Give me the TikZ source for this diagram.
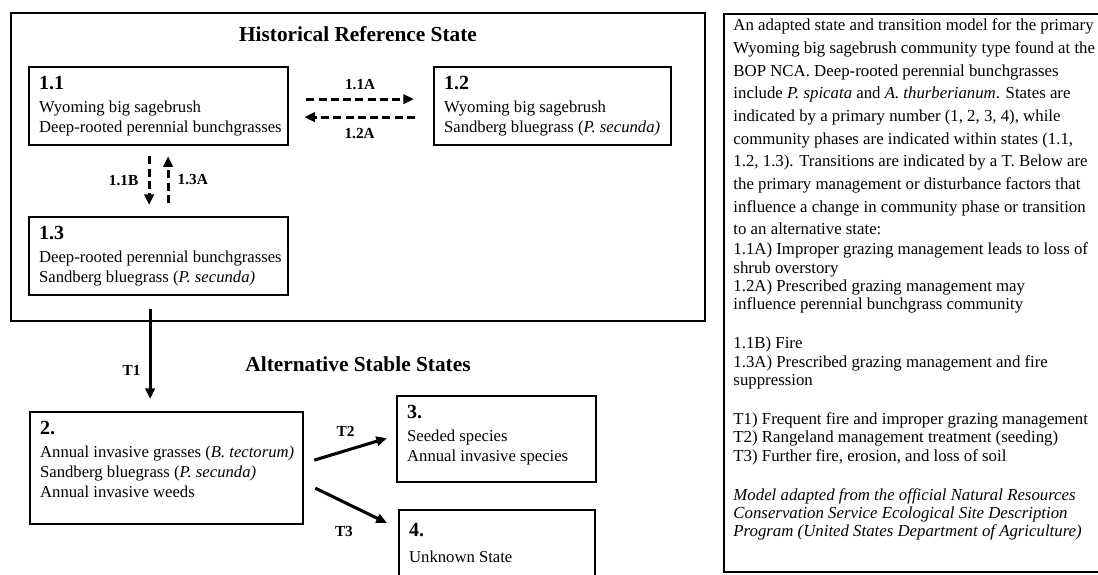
\documentclass[tikz,border=0pt]{standalone}
\usepackage{fontspec}
\setmainfont{Liberation Serif}
\usetikzlibrary{arrows.meta,calc}
\newlength{\pxu}\setlength{\pxu}{0.75pt}
% box of fixed outer size (in px), lines set one per row
\newcommand{\phasebox}[3]{\parbox[t][\dimexpr#2\pxu-6pt\relax][t]{\dimexpr#1\pxu-15pt\relax}{%
  \begin{tabular}[t]{@{}l@{}}#3\end{tabular}}}
\newcommand{\phasenum}[1]{\rule{0pt}{14pt}{\fontsize{15}{15}\selectfont\bfseries #1}\\[2pt]}
\tikzset{
  phase/.style={draw, line width=1.7pt, anchor=north west, inner xsep=7.5pt, inner ysep=3pt,
    font=\fontsize{12.5}{15}\selectfont},
  notes/.style={phase, inner xsep=7pt, font=\fontsize{12.6}{13.75}\selectfont},
  frame/.style={line width=1.7pt},
  heading/.style={font=\fontsize{16}{18}\selectfont\bfseries},
  trans/.style={line width=2.3pt, -{Triangle[length=8pt,width=7pt]}},
  phaseshift/.style={trans, dash pattern=on 6pt off 3.2pt},
  translabel/.style={font=\fontsize{11.5}{13}\selectfont\bfseries, inner sep=1pt},
}
\begin{document}
\begin{tikzpicture}[x=0.75pt,y=-0.75pt]
  \useasboundingbox (0,0) rectangle (1098,574);
  \clip (0,0) rectangle (1098,574);
  % historical reference state
  \draw[frame] (11,13) rectangle (705,321);
  \node[heading] (hrs) at (358,34) {Historical Reference State};
  \node[phase] (p11) at (28,66) {\phasebox{259}{78}{\phasenum{1.1}Wyoming big sagebrush\\
    Deep-rooted perennial bunchgrasses}};
  \node[phase] (p12) at (433,66) {\phasebox{237}{78}{\phasenum{1.2}Wyoming big sagebrush\\
    Sandberg bluegrass (\textit{P. secunda)}}};
  \node[phase] (p13) at (28,216) {\phasebox{259}{78}{\phasenum{1.3}Deep-rooted perennial bunchgrasses\\
    Sandberg bluegrass (\textit{P. secunda)}}};
  \draw[phaseshift] ($(p11.east)+(17,-7)$) -- node[translabel, above=5pt] (l11a) {1.1A} ($(p12.west)+(-19,-7)$);
  \draw[phaseshift] ($(p12.west)+(-18,11)$) -- node[translabel, below=6.5pt] (l12a) {1.2A} ($(p11.east)+(15,11)$);
  \draw[phaseshift] ($(p11.south)+(-9.5,10)$) -- node[translabel, left=6pt] (l11b) {1.1B} ($(p13.north)+(-9.5,-11)$);
  \draw[phaseshift] ($(p13.north)+(9.5,-13)$) -- node[translabel, right=5pt] (l13a) {1.3A} ($(p11.south)+(9.5,10)$);
  % alternative stable states
  \node[heading] (ass) at (358,364) {Alternative Stable States};
  \node[phase] (s2) at (29,411) {\phasebox{273}{112}{\phasenum{2.}Annual invasive grasses (\textit{B. tectorum)}\\
    Sandberg bluegrass (\textit{P. secunda)}\\Annual invasive weeds}};
  \node[phase] (s3) at (396,395) {\phasebox{199}{86}{\phasenum{3.}Seeded species\\Annual invasive species}};
  \node[phase] (s4) at (398,509) {\phasebox{196}{90}{\rule{0pt}{17pt}{\fontsize{15}{15}\selectfont\bfseries 4.}\\[4pt]
    Unknown State}};
  \draw[trans] ($(p13.south)+(-8.5,13)$) -- node[translabel, pos=0.68, left=5pt] (lt1) {T1} ($(s2.north)+(-16.5,-12)$);
  \draw[trans] ($(s2.east)+(10,-8)$) -- node[translabel, pos=0.43, above=8.5pt] (lt2) {T2} ($(s3.west)+(-9,-1)$);
  \draw[trans] ($(s2.east)+(11,20)$) -- node[translabel, pos=0.4, below=16pt] (lt3) {T3} ($(s4.north west)+(-11,14)$);
  % notes
  \node[notes] (note) at (723,13) {\phasebox{400}{558}{%
    An adapted state and transition model for the primary\\[3.25pt]
    Wyoming big sagebrush community type found at the\\[3.25pt]
    BOP NCA. Deep-rooted perennial bunchgrasses\\[3.25pt]
    include \textit{P. spicata} and \textit{A. thurberianum}. States are\\[3.25pt]
    indicated by a primary number (1, 2, 3, 4), while\\[3.25pt]
    community phases are indicated within states (1.1,\\[3.25pt]
    1.2, 1.3). Transitions are indicated by a T. Below are\\[3.25pt]
    the primary management or disturbance factors that\\[3.25pt]
    influence a change in community phase or transition\\[3.25pt]
    to an alternative state:\\[1.25pt]
    1.1A) Improper grazing management leads to loss of\\
    shrub overstory\\
    1.2A) Prescribed grazing management may\\
    influence perennial bunchgrass community\\[15.5pt]
    1.1B) Fire\\
    1.3A) Prescribed grazing management and fire\\
    suppression\\[15.5pt]
    T1) Frequent fire and improper grazing management\\
    T2) Rangeland management treatment (seeding)\\
    T3) Further fire, erosion, and loss of soil\\[15.5pt]
    \textit{Model adapted from the official Natural Resources}\\
    \textit{Conservation Service Ecological Site Description}\\
    \textit{Program (United States Department of Agriculture)}}};
\end{tikzpicture}
\end{document}
